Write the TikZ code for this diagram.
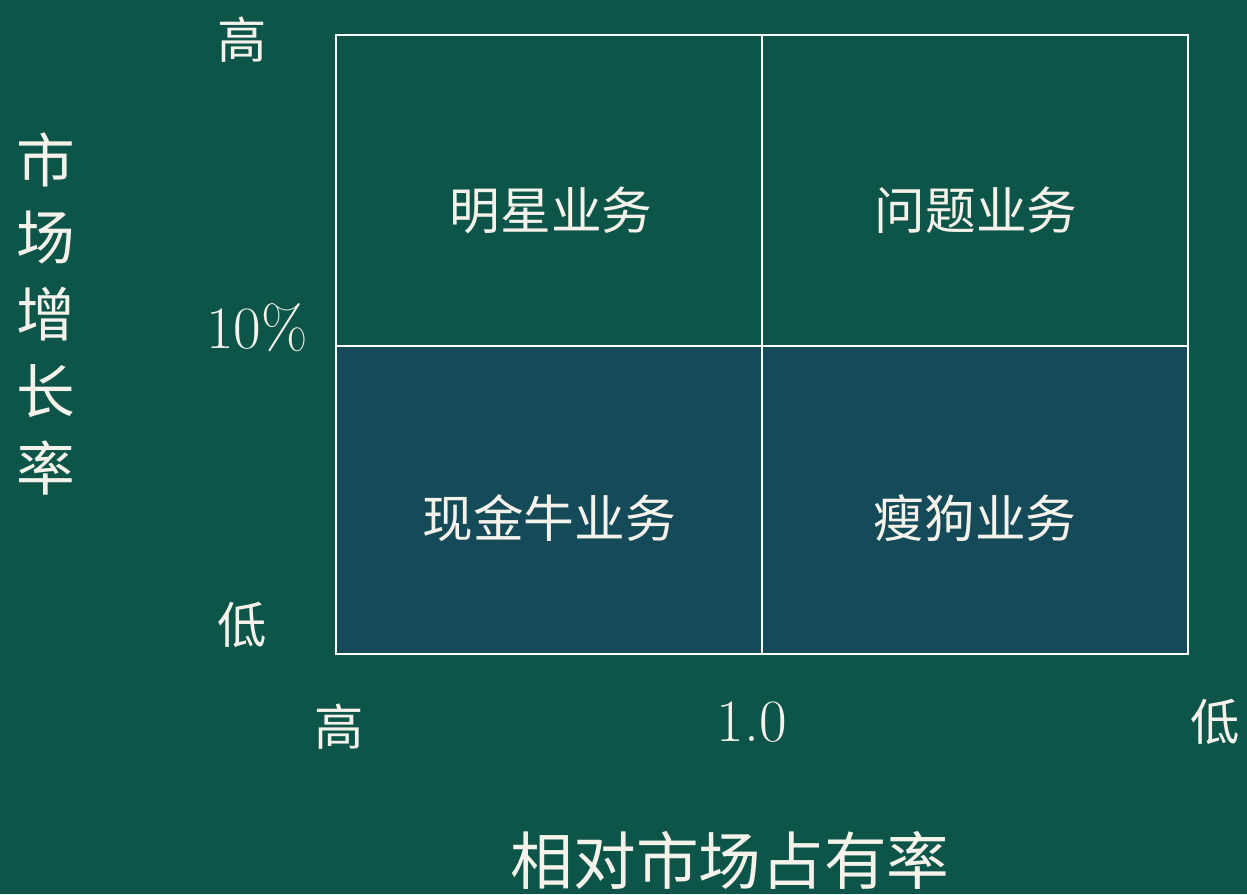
\documentclass[tikz,border=0pt]{standalone}
\usepackage{fontspec}
\newfontfamily\cjk{Noto Sans CJK SC}[Scale=1]
\definecolor{bg}{HTML}{0D5548}
\definecolor{lowcell}{HTML}{154B58}
\definecolor{ink}{HTML}{F4F2EA}
\begin{document}
\begin{tikzpicture}[x=0.75pt,y=-0.75pt,
  lbl/.style={text=ink,inner sep=0pt,font=\cjk\fontsize{37}{40}\selectfont},
  num/.style={text=ink,inner sep=0pt,font=\fontsize{45}{48}\selectfont},
  cell/.style={text=ink,inner sep=0pt,font=\cjk\fontsize{38}{42}\selectfont},
  grid/.style={draw=white,line width=2.2pt}]
\fill[bg] (0,0) rectangle (1247,894);
\useasboundingbox (0,0) rectangle (1247,894);
\fill[lowcell] (336,346) rectangle (1188,654);
\draw[grid] (336,35) rectangle (1188,654);
\draw[grid] (762,35) -- (762,654);
\draw[grid] (336,346) -- (1188,346);
\node[cell] (star) at (551,210) {明星业务};
\node[cell] (quest) at (976,210) {问题业务};
\node[cell] (cow) at (549,518) {现金牛业务};
\node[cell] (dog) at (975,518) {瘦狗业务};
\node[lbl] (yhi) at (242,40) {高};
\node[num] (ymid) at (257,328) {10\%};
\node[lbl] (ylo) at (242,625) {低};
\node[lbl] (xhi) at (339,727) {高};
\node[num] (xmid) at (752,722) {1.0};
\node[lbl] (xlo) at (1215,722) {低};
\node[text=ink,inner sep=0pt,align=center,font=\cjk\fontsize{44}{57.75}\selectfont] (ylab) at (46,314) {市\\场\\增\\长\\率};
\node[text=ink,inner sep=0pt,font=\cjk\fontsize{47}{50}\selectfont] (xlab) at (730,860) {相对市场占有率};
\end{tikzpicture}
\end{document}
